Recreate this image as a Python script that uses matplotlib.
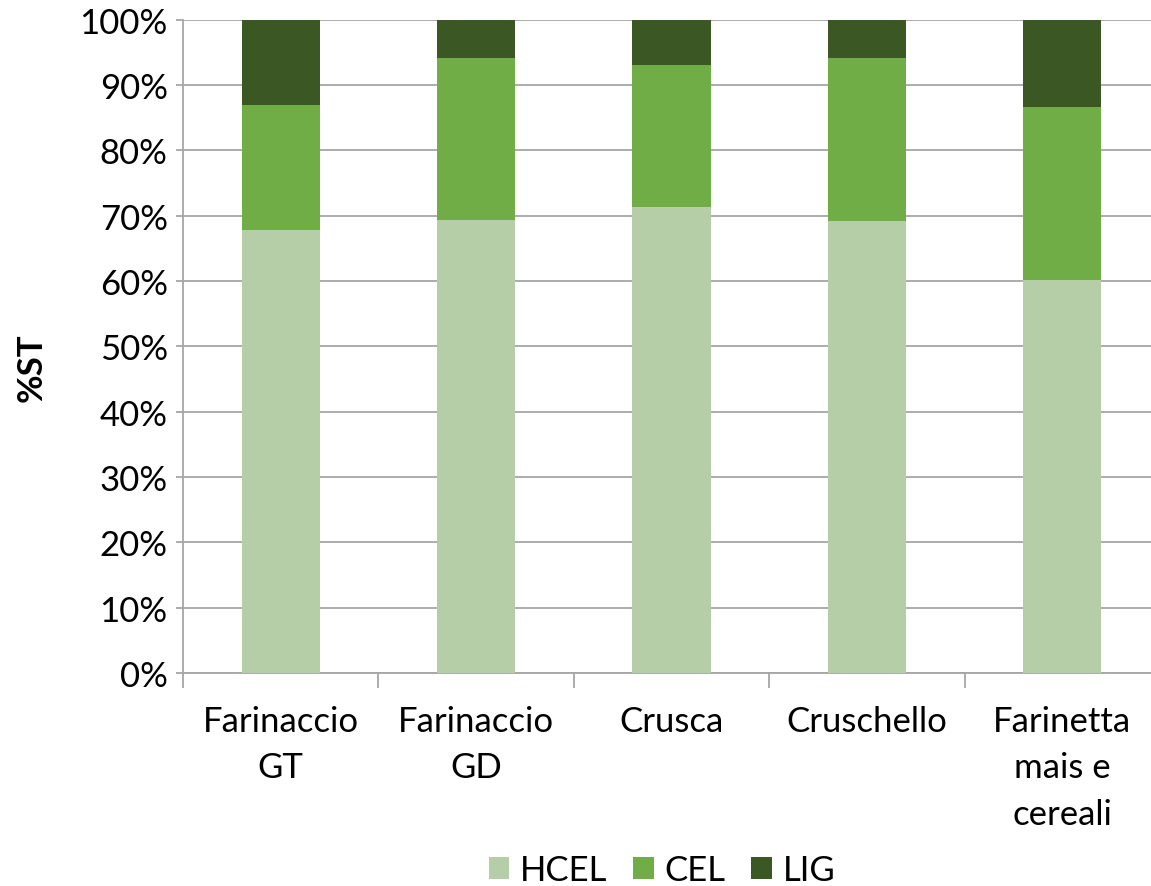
import numpy as np
import matplotlib.pyplot as plt
from matplotlib.ticker import FixedLocator, PercentFormatter

categories = ["Farinaccio\nGT", "Farinaccio\nGD", "Crusca", "Cruschello", "Farinetta\nmais e\ncereali"]
hcel = [67.8, 69.4, 71.4, 69.2, 60.2]
cel = [19.2, 24.8, 21.6, 24.9, 26.5]
lig = [13.0, 5.8, 7.0, 5.9, 13.3]

colors = ["#B5CEA8", "#70AD47", "#3A5724"]
names = ["HCEL", "CEL", "LIG"]

plt.rcParams['font.family'] = ['Lato', 'DejaVu Sans']

fig = plt.figure(figsize=(11.51, 8.87), dpi=100)
ax = fig.add_axes([183/1151, 1-674/887, (1160-183)/1151, (674-20.7)/887])

x = np.arange(len(categories))
bottom = np.zeros(len(categories))
for vals, c, n in zip([hcel, cel, lig], colors, names):
    ax.bar(x, vals, width=0.4, bottom=bottom, color=c, label=n, zorder=3)
    bottom += np.array(vals)

ax.set_ylim(0, 100)
ax.set_xlim(-0.5, len(categories)-0.5)
ax.set_yticks(np.arange(0, 101, 10))
ax.yaxis.set_major_formatter(PercentFormatter(decimals=0))
ax.grid(axis='y', color='#A6A6A6', linewidth=1.3, zorder=0)

ax.xaxis.set_major_locator(FixedLocator(np.arange(-0.5, len(categories), 1)))
ax.set_xticklabels([])
ax.set_xticks(x, minor=True)
ax.set_xticklabels(categories, minor=True, fontsize=25, linespacing=1.55)
ax.tick_params(axis='x', which='major', length=11, color='#A6A6A6', width=1.3)
ax.tick_params(axis='x', which='minor', length=0, pad=23)
ax.tick_params(axis='y', length=5, color='#A6A6A6', width=1.3, labelsize=25, pad=6)

for s in ['top', 'right']:
    ax.spines[s].set_visible(False)
for s in ['left', 'bottom']:
    ax.spines[s].set_color('#A6A6A6')
    ax.spines[s].set_linewidth(1.3)

ax.set_ylabel("%ST", fontsize=25, fontweight='bold')
ax.yaxis.set_label_coords((48-183)/977, (674-368)/653.3)

fig.legend(loc='center', bbox_to_anchor=(662/1151, 1-871/887), ncol=3, frameon=False,
           fontsize=25, handlelength=0.6, handleheight=0.6, handletextpad=0.3,
           columnspacing=0.75, borderpad=0)

fig.savefig("out.png", dpi=100)
